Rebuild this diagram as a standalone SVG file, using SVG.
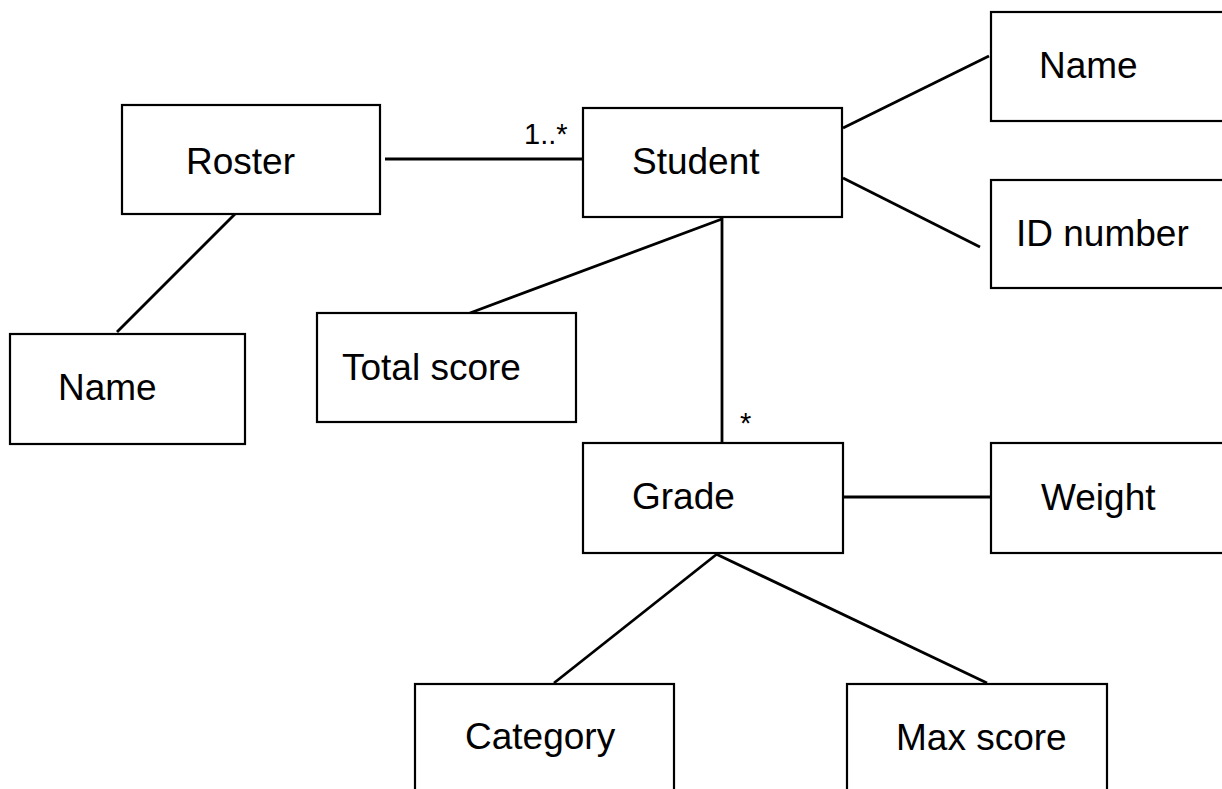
<svg xmlns="http://www.w3.org/2000/svg" width="1222" height="789" viewBox="0 0 1222 789">
<style>
.box{fill:#fff;stroke:#000;stroke-width:2.2}
.lbl{font-family:"Liberation Sans",Arial,sans-serif;font-size:37px;fill:#000}
.mult{font-family:"Liberation Sans",Arial,sans-serif;font-size:29px;fill:#000}
.conn line{stroke:#000;stroke-width:2.8;stroke-linecap:butt}
</style>
<rect width="1222" height="789" fill="#fff"/>
<g id="connectors" class="conn">
<line x1="385" y1="159" x2="583" y2="159"/>
<line x1="235" y1="214" x2="117" y2="332"/>
<line x1="843" y1="128" x2="989" y2="56"/>
<line x1="843" y1="178" x2="980" y2="247"/>
<line x1="722" y1="219" x2="470" y2="313"/>
<line x1="722" y1="217" x2="722" y2="443"/>
<line x1="843" y1="497" x2="991" y2="497"/>
<line x1="717" y1="554" x2="554" y2="683"/>
<line x1="716" y1="554" x2="987" y2="683"/>
</g>
<g id="roster"><rect class="box" x="122" y="105" width="258" height="109"/><text class="lbl" x="186" y="174">Roster</text></g>
<g id="student"><rect class="box" x="583" y="108" width="259" height="109"/><text class="lbl" x="632" y="174">Student</text></g>
<g id="name-right"><rect class="box" x="991" y="12" width="240" height="109"/><text class="lbl" x="1039" y="78">Name</text></g>
<g id="id-number"><rect class="box" x="991" y="180" width="240" height="108"/><text class="lbl" x="1016" y="246">ID number</text></g>
<g id="name-left"><rect class="box" x="10" y="334" width="235" height="110"/><text class="lbl" x="58" y="400">Name</text></g>
<g id="total-score"><rect class="box" x="317" y="313" width="259" height="109"/><text class="lbl" x="342" y="380">Total score</text></g>
<g id="grade"><rect class="box" x="583" y="443" width="260" height="110"/><text class="lbl" x="632" y="509">Grade</text></g>
<g id="weight"><rect class="box" x="991" y="443" width="240" height="110"/><text class="lbl" x="1041" y="510">Weight</text></g>
<g id="category"><rect class="box" x="415" y="684" width="259" height="120"/><text class="lbl" x="465" y="749">Category</text></g>
<g id="max-score"><rect class="box" x="847" y="684" width="260" height="120"/><text class="lbl" x="896" y="750">Max score</text></g>
<g id="multiplicities">
<text class="mult" x="524" y="144">1..*</text>
<text class="mult" x="740" y="433">*</text>
</g>
</svg>
